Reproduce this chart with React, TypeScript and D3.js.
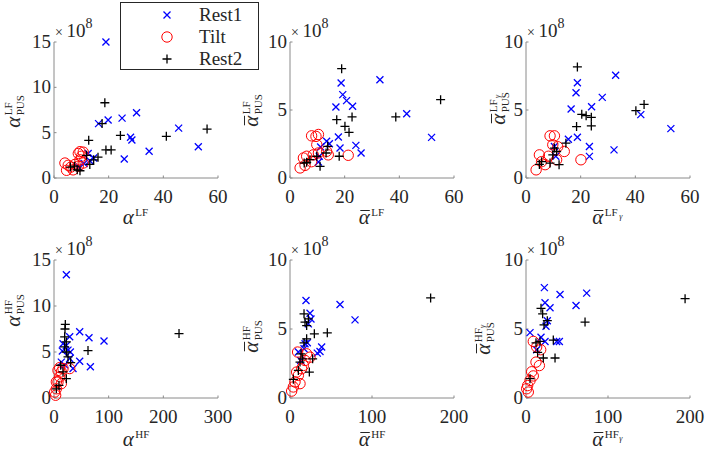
import React from "react";
import * as d3 from "d3";

// ---- data (y values in units of 1e8) ----
const seriesNames = ["Rest1", "Tilt", "Rest2"];

const p1Rest1 = [[19,15.0],[30.2,7.2],[24.9,6.6],[16.3,6.0],[19.8,6.4],[28,4.5],[28.5,4.2],[45.6,5.5],[52.8,3.45],[34.8,2.95],[25.7,2.1],[12.5,2.7],[13.1,1.9],[14.5,2.2],[11,1.6],[9,1.2]];
const p1Tilt = [[4.6,0.85],[5.2,1.4],[4,1.65],[7.7,1.5],[9.5,2.9],[10.1,2.4],[9.5,2.0],[8.9,1.3],[10.7,1.65],[8.9,2.7],[7,0.9],[10.7,2.85],[6.2,1.2]];
const p1Rest2 = [[18.6,8.3],[17.6,6.0],[12.7,4.15],[24.3,4.7],[41.1,4.6],[56,5.4],[19,3.1],[20.9,3.1],[16.1,2.3],[11.9,2.5],[13.1,1.5],[6,1.2],[7.5,1.3],[8.5,0.9],[9.5,0.8],[14.5,2.0]];

const p2Rest1 = [[32.9,7.23],[18.7,6.99],[19.3,6.13],[20.7,5.69],[16.8,5.22],[22.9,5.27],[42.7,4.73],[51.8,2.99],[17.7,3.01],[18.3,2.2],[24.1,2.4],[26,1.84],[14.4,2.52],[11.2,2.28],[10.7,1.6],[10.4,1.18],[13.4,2.7]];
const p2Tilt = [[21.3,1.67],[9.5,3.06],[7.9,3.1],[10.4,3.2],[9.8,2.45],[14,1.7],[13.4,1.96],[6.1,1.6],[4.9,1.47],[3.7,0.74],[5.5,0.93],[8.5,1.7],[10.4,1.84],[7.9,1.2]];
const p2Rest2 = [[18.9,8.04],[55.1,5.76],[38.7,4.49],[17.1,4.29],[22.7,4.49],[20.1,3.8],[21.6,3.36],[18,1.6],[13.8,2.33],[13.2,1.84],[11,0.86],[7.3,1.35],[6.1,1.15],[5.2,1.1],[9.8,1.6]];

const p3Rest1 = [[32.8,7.56],[18.8,7.0],[18.3,6.27],[27.9,5.93],[16.5,5.07],[24,5.24],[42,4.66],[53,3.63],[15.5,2.85],[18.8,3.0],[23.2,2.32],[32.2,2.07],[23.2,1.59],[10.4,2.32],[10.9,1.6]];
const p3Tilt = [[20.1,1.34],[8.8,3.1],[10.4,3.1],[9.8,2.44],[11.6,2.3],[14,1.95],[4.9,1.7],[5.7,1.2],[3.7,0.6],[8.2,1.6],[11.2,1.34],[7,0.98]];
const p3Rest2 = [[18.8,8.17],[43.2,5.41],[40.2,4.95],[20.4,4.68],[22,4.58],[23.9,4.46],[18.5,3.78],[23.9,3.83],[14.6,2.56],[10.4,2.2],[9.8,1.7],[12.1,0.98],[8.8,1.1],[5.7,1.2],[4.9,1.0],[11.2,1.95]];

const p4Rest1 = [[22.6,13.4],[47,7.2],[64,6.55],[91.5,6.2],[28.7,6.65],[16.5,5.9],[22.6,5.7],[25.6,5.2],[29.9,5.0],[15.2,5.1],[47,4.0],[66.5,3.4],[34.8,3.2],[28.7,4.3],[19.5,3.6],[13.4,3.9]];
const p4Tilt = [[1.2,0.65],[3,0.3],[4.3,1],[7.3,1.75],[10.4,2.3],[13.4,2.84],[16.5,3.2],[10.4,3.3],[7.3,3.0],[28.7,3.2],[4.3,1.75],[13.4,1.56]];
const p4Rest2 = [[228.7,7.0],[62.2,5.16],[20.7,8.0],[20.1,7.5],[19.5,6.65],[22.6,6.1],[19.5,5.56],[22.6,5.0],[25.6,4.47],[12.2,3.56],[16.5,2.84],[22.6,2.1],[9.1,1.38],[4.3,1.0],[30.5,3.85]];

const p5Rest1 = [[19.5,7.06],[61,6.77],[79.3,5.66],[24.4,6.14],[25.6,5.73],[22.4,5.37],[18.3,3.93],[21.1,4.0],[17.1,3.57],[38.6,3.69],[36.6,3.37],[33.3,3.25],[10.2,3.33],[13,2.72]];
const p5Tilt = [[4.1,0.8],[2,0.5],[6.1,1.16],[10.2,1.64],[14.2,2.12],[9.3,3.33],[20.3,3.2],[24.4,2.96],[18.3,2.72],[16.3,2.36],[8.1,1.88],[12.2,1.04]];
const p5Rest2 = [[171.5,7.25],[17.1,6.1],[18.3,5.5],[20.3,5.25],[22.4,5.73],[45.5,4.72],[29.7,4.65],[20.3,4.29],[17.1,4.0],[13.4,3.2],[15.4,2.84],[12.2,2.6],[27.6,2.84],[23.6,1.88],[4.1,1.35],[10.2,2.0]];

const p6Rest1 = [[22.4,8.0],[41.5,7.5],[74,7.6],[23.2,6.9],[29.3,6.54],[61,6.7],[4.9,4.74],[18.3,4.4],[23.2,4.1],[37.4,4.1],[40.7,4.1],[26,5.6],[24.4,5.2],[13,3.5]];
const p6Tilt = [[8.9,4.1],[13,3.7],[17.9,3.5],[12.2,2.6],[16.3,2.35],[6.9,1.9],[8.9,1.6],[4.9,1.27],[2,0.9],[0.8,0.67],[2.8,0.43]];
const p6Rest2 = [[194,7.2],[72,5.5],[18.3,6.5],[20.3,6.1],[22,5.3],[26,5.6],[17.1,4.1],[12.2,4.0],[33.3,4.2],[14.2,3.3],[21.1,2.9],[35.4,2.9],[4.9,1.4]];

const xDomains = [[0, 60], [0, 60], [0, 60], [0, 300], [0, 200], [0, 200]];
const yDomains = [[0, 15], [0, 10], [0, 10], [0, 15], [0, 10], [0, 10]];
const xTickValues = [[0, 20, 40, 60], [0, 20, 40, 60], [0, 20, 40, 60], [0, 100, 200, 300], [0, 100, 200], [0, 100, 200]];
const yTickValues = [[0, 5, 10, 15], [0, 5, 10], [0, 5, 10], [0, 5, 10, 15], [0, 5, 10], [0, 5, 10]];
const xLabelParts = [
  { bar: false, sup: "LF", supSub: "" },
  { bar: true, sup: "LF", supSub: "" },
  { bar: true, sup: "LF", supSub: "γ" },
  { bar: false, sup: "HF", supSub: "" },
  { bar: true, sup: "HF", supSub: "" },
  { bar: true, sup: "HF", supSub: "γ" },
];
const yLabelSub = "PUS";

const panelData = [
  [p1Rest1, p1Tilt, p1Rest2],
  [p2Rest1, p2Tilt, p2Rest2],
  [p3Rest1, p3Tilt, p3Rest2],
  [p4Rest1, p4Tilt, p4Rest2],
  [p5Rest1, p5Tilt, p5Rest2],
  [p6Rest1, p6Tilt, p6Rest2],
];

// ---- layout ----
const W = 708, H = 451;
const FONT = "Liberation Serif, serif";
const TXT = "#262626";
const AXC = "#8a8a8a";
const colLeft = [54, 290, 526];
const rowTop = [42, 260];
const rowBottom = [178, 398];
const PW = 164;
const yLabelX = [20, 258, 505, 20, 258, 490];
const yLabelY = [111, 110, 108, 310, 336, 338];

function Marker({ kind, x, y }: { kind: number; x: number; y: number }) {
  if (kind === 0)
    return <path d={`M${x - 3.5},${y - 3.5}L${x + 3.5},${y + 3.5}M${x - 3.5},${y + 3.5}L${x + 3.5},${y - 3.5}`} stroke="#0000ff" strokeWidth={1.3} fill="none" />;
  if (kind === 1) return <circle cx={x} cy={y} r={5.2} stroke="#ff0000" strokeWidth={1} fill="none" />;
  return <path d={`M${x - 4.5},${y}L${x + 4.5},${y}M${x},${y - 4.5}L${x},${y + 4.5}`} stroke="#000" strokeWidth={1.3} fill="none" />;
}

function AlphaLabel({ bar, sup, supSub, sub, x, y, rotate }: any) {
  const supW = sup.length * 7.2 + (supSub ? 5 : 0);
  const subW = sub ? sub.length * 7.2 : 0;
  const w = 11 + Math.max(supW, subW) + 1;
  const x0 = -w / 2;
  return (
    <g transform={`translate(${x},${y}) rotate(${rotate})`} fill={TXT}>
      <text x={x0} y={0} fontSize={21} fontStyle="italic">α</text>
      {bar && <line x1={x0 + 1.5} x2={x0 + 11} y1={-13.5} y2={-13.5} stroke={TXT} strokeWidth={1} />}
      <text x={x0 + 12.5} y={-8} fontSize={11}>{sup}</text>
      {supSub && <text x={x0 + 12.5 + sup.length * 7.2} y={-5.5} fontSize={8} fontStyle="italic">{supSub}</text>}
      {sub && <text x={x0 + 12.5} y={4} fontSize={11}>{sub}</text>}
    </g>
  );
}

function Panel({ i }: { i: number }) {
  const col = i % 3, row = Math.floor(i / 3);
  const left = colLeft[col], top = rowTop[row], bottom = rowBottom[row];
  const x = d3.scaleLinear().domain(xDomains[i]).range([left, left + PW]);
  const y = d3.scaleLinear().domain(yDomains[i]).range([bottom, top]);
  const lp = xLabelParts[i];
  return (
    <g>
      <line x1={left} x2={left + PW} y1={bottom} y2={bottom} stroke={AXC} strokeWidth={1} />
      <line x1={left} x2={left} y1={top} y2={bottom} stroke={AXC} strokeWidth={1} />
      {xTickValues[i].map((t) => (
        <g key={"xt" + t}>
          <line x1={x(t)} x2={x(t)} y1={bottom} y2={bottom - 2.5} stroke={AXC} />
          <text x={x(t)} y={bottom + 25} textAnchor="middle" fontSize={19} fill={TXT}>{t}</text>
        </g>
      ))}
      {yTickValues[i].map((t) => (
        <g key={"yt" + t}>
          <line x1={left} x2={left + 2.5} y1={y(t)} y2={y(t)} stroke={AXC} />
          <text x={left - 3} y={y(t) + 6} textAnchor="end" fontSize={19} fill={TXT}>{t}</text>
        </g>
      ))}
      <text x={left + 1} y={top - 5} fill={TXT}>
        <tspan fontSize={14}>× </tspan>
        <tspan fontSize={19}>10</tspan>
        <tspan fontSize={14} dy={-9}>8</tspan>
      </text>
      {panelData[i].map((pts, k) => (
        <g key={"s" + k}>
          {pts.map((p, j) => <Marker key={j} kind={k} x={x(p[0])} y={y(p[1])} />)}
        </g>
      ))}
      <AlphaLabel bar={lp.bar} sup={lp.sup} supSub={lp.supSub} sub="" x={left + PW / 2} y={bottom + (row === 0 ? 46 : 48)} rotate={0} />
      <AlphaLabel bar={lp.bar} sup={lp.sup} supSub={lp.supSub} sub={yLabelSub} x={yLabelX[i]} y={yLabelY[i]} rotate={-90} />
    </g>
  );
}

export default function App() {
  const legendRows = [15, 37, 59];
  return (
    <svg width={W} height={H} style={{ position: "absolute", left: 0, top: 0, background: "#fff", fontFamily: FONT }}>
      <rect width={W} height={H} fill="#fff" />
      {[0, 1, 2, 3, 4, 5].map((i) => <Panel key={i} i={i} />)}
      <g>
        <rect x={120.5} y={2.5} width={138} height={67} fill="#fff" stroke={TXT} strokeWidth={1} />
        {seriesNames.map((n, k) => (
          <g key={n}>
            <Marker kind={k} x={167} y={legendRows[k]} />
            <text x={199} y={legendRows[k] + 6} fontSize={19} fill={TXT}>{n}</text>
          </g>
        ))}
      </g>
    </svg>
  );
}
